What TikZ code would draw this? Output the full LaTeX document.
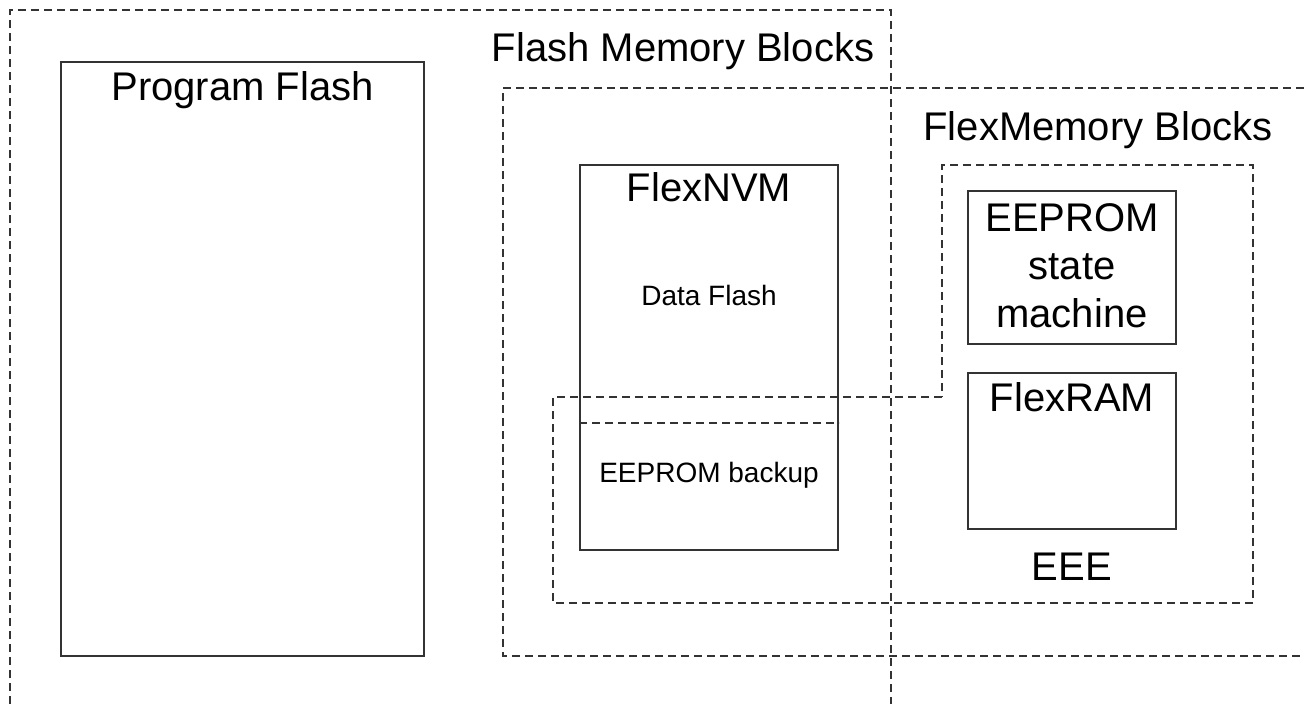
\documentclass[tikz,border=0pt]{standalone}
\usepackage{fontspec}
\setmainfont{Liberation Sans}
\usetikzlibrary{positioning}

\begin{document}
\begin{tikzpicture}[x=1pt, y=-1pt,
    block/.style={draw=black!80, line width=2pt, inner sep=0pt},
    region/.style={draw=black!80, line width=1.8pt, dash pattern=on 8pt off 5pt},
    big/.style={font=\fontsize{40}{48}\selectfont, anchor=base, inner sep=0pt, align=center},
    small/.style={font=\fontsize{28}{34}\selectfont, anchor=base, inner sep=0pt}]
    \useasboundingbox (0,0) rectangle (1304,704);
    \node[block, minimum width=363pt, minimum height=594pt] (pflash) at (242.5,359) {};
    \node[block, minimum width=258pt, minimum height=385pt] (nvm) at (709,357.5) {};
    \node[block, minimum width=208pt, minimum height=153pt] (eesm) at (1072,267.5) {};
    \node[block, minimum width=208pt, minimum height=156pt, below=27pt of eesm] (fram) {};
    \draw[region] (10,704) |- (891,10) -- (891,704);
    \draw[region] (1304,88) -- (503,88) |- (1304,656);
    \draw[region] (942,397) -- (553,397) |- (1253,603) |- (942,165) -- cycle;
    \draw[region] ([yshift=-65.5pt]nvm.west) -- ([yshift=-65.5pt]nvm.east);
    \node[big] (flashlbl) at (683,61) {Flash Memory Blocks};
    \node[big] (flexlbl) at (1098,140) {FlexMemory Blocks};
    \node[big] (pflashlbl) at ([yshift=-39pt]pflash.north) {Program Flash};
    \node[big] (nvmlbl) at ([yshift=-37pt]nvm.north) {FlexNVM};
    \node[small] (dflashlbl) at ([yshift=-141pt]nvm.north) {Data Flash};
    \node[small] (backuplbl) at ([yshift=-318pt]nvm.north) {EEPROM backup};
    \node[big] (eesmlbl) at ([yshift=-137pt]eesm.north) {EEPROM\\state\\machine};
    \node[big] (framlbl) at ([yshift=-39pt]fram.north) {FlexRAM};
    \node[big] (eeelbl) at ([yshift=-50pt]fram.south) {EEE};
\end{tikzpicture}
\end{document}
